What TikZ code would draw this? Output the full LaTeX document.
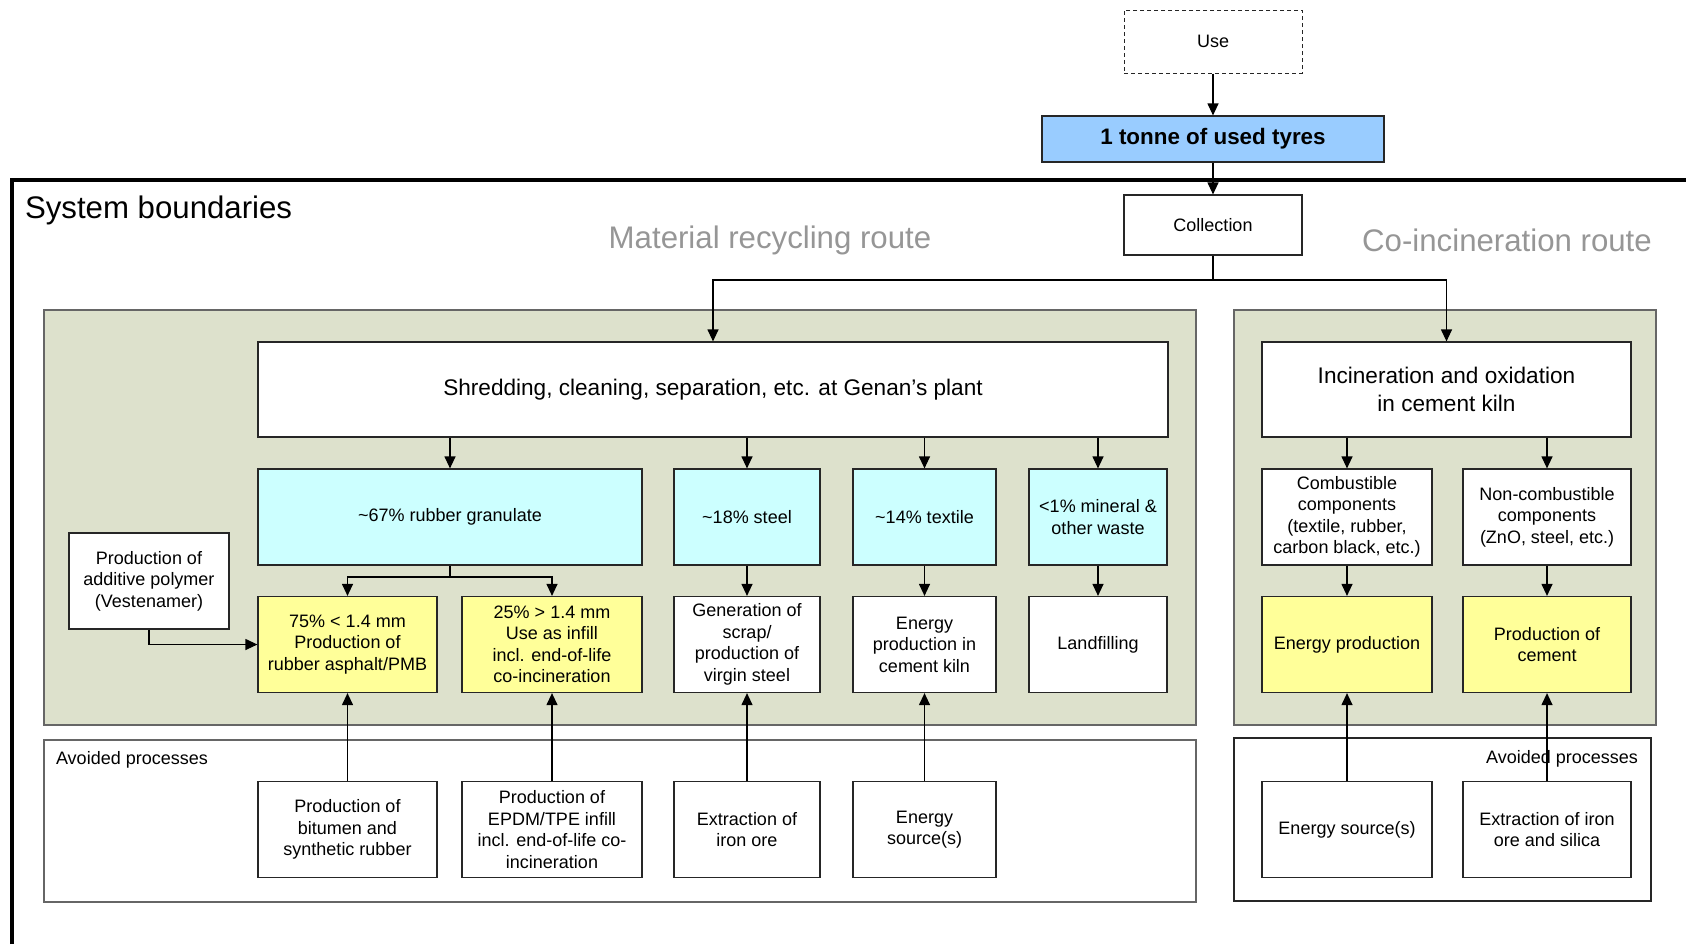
\documentclass[tikz,border=0pt]{standalone}
\usepackage{fontspec}
\setmainfont{Liberation Sans}
\usetikzlibrary{arrows.meta}
\definecolor{panelgreen}{RGB}{221,225,204}
\definecolor{granucyan}{RGB}{204,255,255}
\definecolor{outyellow}{RGB}{255,255,153}
\definecolor{tyreblue}{RGB}{153,204,255}
\definecolor{routegray}{RGB}{150,150,150}
\begin{document}
\begin{tikzpicture}[x=0.5pt,y=-0.5pt,
		box/.style={draw=black!85,fill=white,line width=0.6pt,align=center,inner sep=2pt,
			font=\fontsize{9}{10.75}\selectfont,minimum height=48pt},
		arr/.style={-{Triangle[length=6pt,width=5.5pt]},line width=0.6pt},
		big/.style={font=\fontsize{11.3}{14}\selectfont},
		route/.style={text=routegray,font=\fontsize{15.6}{18}\selectfont},
		panel/.style={draw=black!60,line width=0.7pt}]
		\useasboundingbox (0,0) rectangle (1686,944);
		% panels
		\draw[panel,fill=panelgreen] (44,310) rectangle (1196,725);
		\draw[panel,fill=panelgreen] (1234,310) rectangle (1656,725);
		\draw[panel,fill=white] (44,740) rectangle (1196,902);
		\draw[panel,draw=black!85,line width=0.55pt,fill=white] (1234,738) rectangle (1651,901);
		\draw[line width=2pt] (12,944) -- (12,180) -- (1686,180);
		\node[anchor=west,font=\fontsize{15.6}{18}\selectfont] (sysb) at (18,210) {System boundaries};
		\node[route] (matroute) at (770,240) {Material recycling route};
		\node[route] (incroute) at (1507,240) {Co-incineration route};
		\node[anchor=west,font=\fontsize{9}{10.75}\selectfont] (avl) at (49,760) {Avoided processes};
		\node[anchor=east,font=\fontsize{9}{10.75}\selectfont] (avr) at (1645,759) {Avoided processes};
		% top
		\node[box,dash pattern=on 2pt off 1.5pt,line width=0.5pt,minimum width=89pt,minimum height=31.5pt] (use) at (1213,41.5) {Use};
		\node[box,fill=tyreblue,minimum width=171pt,minimum height=23pt,font=\bfseries\fontsize{11.2}{13}\selectfont] (tyres) at (1213,139) {1 tonne of used tyres};
		\node[box,minimum width=89pt,minimum height=30pt] (coll) at (1213,225) {Collection};
		% main processes
		\node[box,big,minimum width=455pt,minimum height=47.5pt] (shred) at (713,389.5) {Shredding, cleaning, separation, etc. at Genan’s plant};
		\node[box,big,minimum width=184.5pt,minimum height=47.5pt] (incin) at (1446.5,389.5) {Incineration and oxidation\\in cement kiln};
		% fractions
		\node[box,fill=granucyan,minimum width=192pt] (gran) at (450,517) {\textasciitilde67\% rubber granulate};
		\node[box,fill=granucyan,minimum width=73pt] (steel) at (747,517) {\textasciitilde18\% steel};
		\node[box,fill=granucyan,minimum width=71.5pt] (textile) at (924.5,517) {\textasciitilde14\% textile};
		\node[box,fill=granucyan,minimum width=69pt] (mineral) at (1098,517) {<1\% mineral \&\\other waste};
		\node[box,minimum width=85pt] (comb) at (1347,517) {Combustible\\components\\(textile, rubber,\\carbon black, etc.)};
		\node[box,minimum width=84pt] (noncomb) at (1547,517) {Non-combustible\\components\\(ZnO, steel, etc.)};
		\node[box,minimum width=80pt] (additive) at (149,581) {Production of\\additive polymer\\(Vestenamer)};
		% uses
		\node[box,fill=outyellow,minimum width=89.5pt] (asph) at (347.5,644.5) {75\% < 1.4 mm\\Production of\\rubber asphalt/PMB};
		\node[box,fill=outyellow,minimum width=90pt] (infill) at (552,644.5) {25\% > 1.4 mm\\Use as infill\\incl. end-of-life\\co-incineration};
		\node[box,minimum width=73pt] (scrap) at (747,644.5) {Generation of\\scrap/\\production of\\virgin steel};
		\node[box,minimum width=71.5pt] (kiln) at (924.5,644.5) {Energy\\production in\\cement kiln};
		\node[box,minimum width=69pt] (landfill) at (1098,644.5) {Landfilling};
		\node[box,fill=outyellow,minimum width=85pt] (energy) at (1347,644.5) {Energy production};
		\node[box,fill=outyellow,minimum width=84pt] (cement) at (1547,644.5) {Production of\\cement};
		% avoided
		\node[box,minimum width=89.5pt] (bitumen) at (347.5,829.5) {Production of\\bitumen and\\synthetic rubber};
		\node[box,minimum width=90pt] (epdm) at (552,829.5) {Production of\\EPDM/TPE infill\\incl. end-of-life co-\\incineration};
		\node[box,minimum width=73pt] (ironore) at (747,829.5) {Extraction of\\iron ore};
		\node[box,minimum width=71.5pt] (source) at (924.5,829.5) {Energy\\source(s)};
		\node[box,minimum width=85pt] (source2) at (1347,829.5) {Energy source(s)};
		\node[box,minimum width=84pt] (silica) at (1547,829.5) {Extraction of iron\\ore and silica};
		% connectors
		\coordinate (csplit) at (1213,280);
		\coordinate (gsplit) at (450,577);
		\draw[arr] (use) -- (tyres);
		\draw[arr] (tyres) -- (coll);
		\draw[line width=0.6pt] (coll) -- (csplit);
		\draw[arr] (csplit) -| (shred);
		\draw[arr] (csplit) -| (incin);
		\foreach \t in {gran,steel,textile,mineral}
			\draw[arr] (shred.south -| \t.north) -- (\t.north);
		\foreach \t in {comb,noncomb}
			\draw[arr] (incin.south -| \t.north) -- (\t.north);
		\draw[line width=0.6pt] (gran) -- (gsplit);
		\draw[arr] (gsplit) -| (asph);
		\draw[arr] (gsplit) -| (infill);
		\draw[arr] (additive.south) |- (asph.west);
		\foreach \from/\to in {steel/scrap,textile/kiln,mineral/landfill,comb/energy,noncomb/cement}
			\draw[arr] (\from) -- (\to);
		\foreach \from/\to in {bitumen/asph,epdm/infill,ironore/scrap,source/kiln,source2/energy,silica/cement}
			\draw[arr] (\from) -- (\to);
	\end{tikzpicture}
\end{document}
